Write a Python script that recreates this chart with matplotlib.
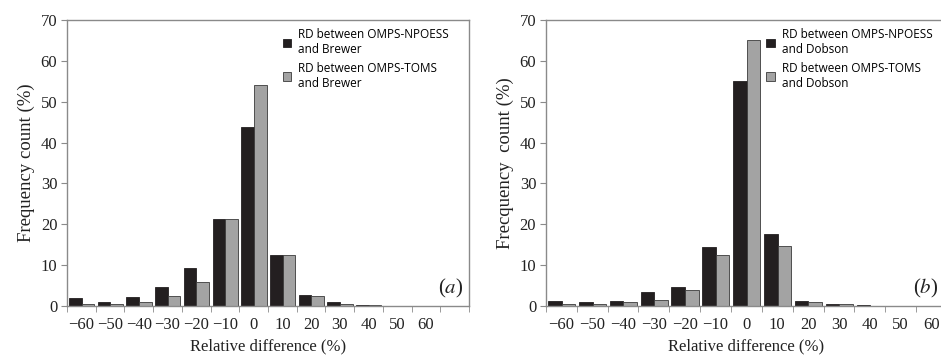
import matplotlib
matplotlib.use('Agg')
import matplotlib.pyplot as plt
from matplotlib.ticker import FixedLocator
import numpy as np

plt.rcParams['mathtext.fontset'] = 'stix'

# bin centres (relative difference, %)
rd_bins = [-60, -50, -40, -30, -20, -10, 0, 10, 20, 30, 40, 50, 60]

# (a) Brewer
brewer_npoess = [2.0, 1.0, 2.2, 4.6, 9.3, 21.3, 43.8, 12.4, 2.7, 1.0, 0.2, 0.0, 0.0]
brewer_toms = [0.5, 0.5, 0.9, 2.4, 5.8, 21.4, 54.0, 12.4, 2.4, 0.5, 0.2, 0.0, 0.0]

# (b) Dobson
dobson_npoess = [1.2, 1.0, 1.2, 3.4, 4.7, 14.4, 55.0, 17.6, 1.2, 0.5, 0.2, 0.1, 0.1]
dobson_toms = [0.5, 0.5, 0.9, 1.5, 3.8, 12.4, 65.0, 14.8, 1.0, 0.4, 0.1, 0.1, 0.1]

ylabels = ['Frequency count (%)', 'Frecquency  count (%)']
instruments = ['Brewer', 'Dobson']

serif = 'Liberation Serif'
sans = 'Open Sans'
dark = '#231f20'
grey = '#a3a3a3'
frame = '#8a8a8a'

fig = plt.figure(figsize=(9.41, 3.56), dpi=100)
ax_a = fig.add_axes([0.0712, 0.1404, 0.4272, 0.8034])
ax_b = fig.add_axes([0.5802, 0.1404, 0.4261, 0.8034])

def draw_panel(ax, npoess, toms, instrument, ylab, tag, xmax, leg_x, tag_x):
    x = np.array(rd_bins)
    b1 = ax.bar(x - 4.3, npoess, width=4.4, align='edge', color=dark,
                edgecolor=dark, linewidth=0.6)
    b2 = ax.bar(x + 0.1, toms, width=4.4, align='edge', color=grey,
                edgecolor='#3a3a3a', linewidth=0.6)
    ax.set_xlim(-65, xmax)
    ax.set_ylim(0, 70)
    ax.set_yticks(range(0, 71, 10))
    ax.set_xticks(rd_bins)
    ax.set_xticklabels([str(v).replace('-', '\u2212') for v in rd_bins])
    ax.xaxis.set_minor_locator(FixedLocator(np.arange(-65, xmax + 1, 10)))
    ax.tick_params(axis='x', which='major', length=0, pad=8)
    ax.tick_params(axis='x', which='minor', length=4, color=frame, direction='out')
    ax.tick_params(axis='y', length=4, color=frame, direction='out', pad=3)
    for lab in ax.get_xticklabels() + ax.get_yticklabels():
        lab.set_fontfamily(serif)
        lab.set_fontsize(12)
        lab.set_color('#222222')
    for s in ax.spines.values():
        s.set_color(frame)
        s.set_linewidth(1.0)
    ax.set_xlabel('Relative difference (%)', family=serif, fontsize=12,
                  color='#222222', labelpad=4)
    ax.set_ylabel(ylab, family=serif, fontsize=13.5, color='#222222', labelpad=4)
    ax.legend([b1, b2], ['RD between OMPS-NPOESS\nand ' + instrument,
                         'RD between OMPS-TOMS\nand ' + instrument],
              loc='upper left', bbox_to_anchor=(leg_x, 1.01), frameon=False,
              prop={'family': sans, 'size': 8.5}, handlelength=0.7,
              handleheight=0.7, handletextpad=0.6, labelspacing=0.5)
    ax.text(tag_x, 0.063, tag, transform=ax.transAxes, ha='right', va='center',
            family=serif, fontsize=15, color='#222222')

draw_panel(ax_a, brewer_npoess, brewer_toms, instruments[0], ylabels[0], '($a$)',
           75, 0.51, 0.985)
draw_panel(ax_b, dobson_npoess, dobson_toms, instruments[1], ylabels[1], '($b$)',
           65, 0.523, 0.978)

fig.savefig('out.png', dpi=100)
